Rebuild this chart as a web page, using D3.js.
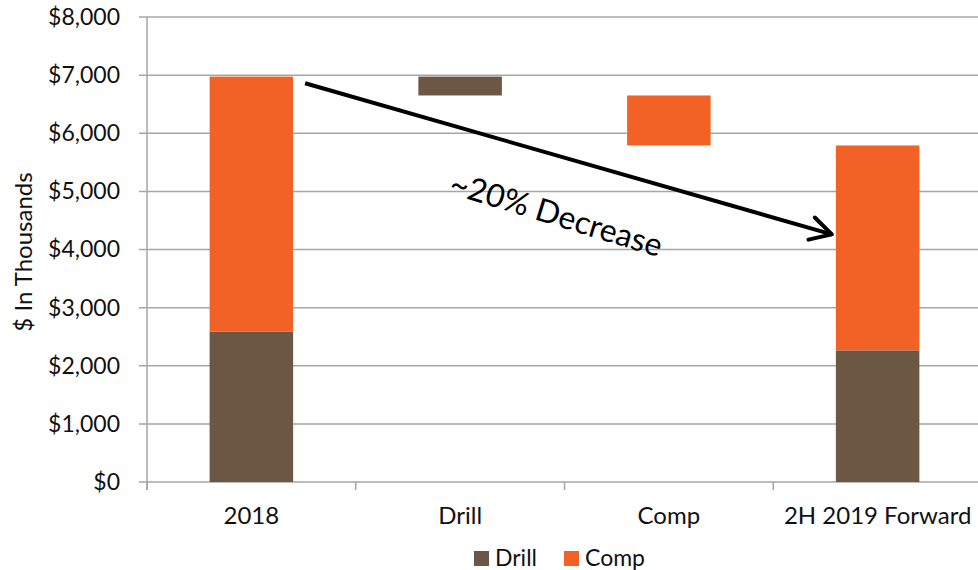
<!DOCTYPE html>
<html>
<head>
<meta charset="utf-8">
<script src="https://cdn.jsdelivr.net/npm/d3@7"></script>
<style>
  html, body { margin: 0; padding: 0; background: #fff; }
  svg { display: block; font-family: Lato, "Open Sans", sans-serif; }
</style>
</head>
<body>
<svg id="chart" width="978" height="570"></svg>
<script>
// Waterfall: 2018 spend, drill and completion savings, 2H 2019 run rate ($K)
const categories = ["2018", "Drill", "Comp", "2H 2019 Forward"];
const baseVals  = [0, 6650, 5790, 0];      // invisible floor for the step bars
const drillVals = [2585, 325, 0, 2265];
const compVals  = [4390, 0, 860, 3525];
const yTicks = [0, 1000, 2000, 3000, 4000, 5000, 6000, 7000, 8000];
const seriesNames = ["Drill", "Comp"];
const colors = { Drill: "#6b5744", Comp: "#f26125" };

const svg = d3.select("#chart");
const plotL = 147, plotR = 982, plotT = 17, plotB = 482;

const x = d3.scaleBand().domain(categories).range([plotL, plotR])
  .paddingInner(0.6).paddingOuter(0.3);
const y = d3.scaleLinear().domain([0, 8000]).range([plotB, plotT]);

// horizontal gridlines
svg.append("g").selectAll("line").data(yTicks).join("line")
  .attr("x1", plotL - 8).attr("x2", plotR)
  .attr("y1", d => y(d)).attr("y2", d => y(d))
  .attr("stroke", "#a6a6a6").attr("stroke-width", 1.5);

// y axis
const yAxis = svg.append("g").attr("transform", `translate(${plotL},0)`)
  .call(d3.axisLeft(y).tickValues(yTicks).tickSize(0).tickPadding(27)
    .tickFormat(d => "$" + d3.format(",")(d)));
yAxis.select(".domain").remove();
yAxis.selectAll("text").attr("font-size", 23).attr("fill", "#111")
  .attr("font-family", "Lato, sans-serif");
svg.append("line").attr("x1", plotL).attr("x2", plotL)
  .attr("y1", plotT).attr("y2", plotB + 8)
  .attr("stroke", "#a6a6a6").attr("stroke-width", 1.5);

// stacked segments
const rows = categories.map((c, i) => ({ cat: c, base: baseVals[i], Drill: drillVals[i], Comp: compVals[i] }));
const stack = d3.stack().keys(["base", ...seriesNames])(rows);
svg.append("g").selectAll("g").data(stack.filter(s => s.key !== "base")).join("g")
  .attr("fill", s => colors[s.key])
  .selectAll("rect").data(s => s.filter(d => d[1] > d[0])).join("rect")
  .attr("x", d => x(d.data.cat))
  .attr("width", x.bandwidth())
  .attr("y", d => y(d[1]))
  .attr("height", d => y(d[0]) - y(d[1]));

// x axis with ticks at category boundaries
const xAxis = svg.append("g").attr("transform", `translate(0,${plotB})`)
  .call(d3.axisBottom(x).tickSize(0).tickPadding(25));
xAxis.select(".domain").remove();
xAxis.selectAll("text").attr("font-size", 24).attr("fill", "#111")
  .attr("font-family", "Lato, sans-serif");
const step = x.step();
const bounds = categories.map(c => x(c) - x.paddingOuter() * step);
svg.append("g").selectAll("line").data(bounds).join("line")
  .attr("x1", d => d).attr("x2", d => d)
  .attr("y1", plotB).attr("y2", plotB + 8)
  .attr("stroke", "#a6a6a6").attr("stroke-width", 1.5);

// y axis title
svg.append("text")
  .attr("transform", `translate(32,252) rotate(-90)`)
  .attr("text-anchor", "middle")
  .attr("font-size", 24).attr("fill", "#111")
  .text("$ In Thousands");

// annotation arrow
const ax1 = x("2018") + x.bandwidth() + 12, ay1 = y(6860);
const ax2 = x("2H 2019 Forward") - 4, ay2 = y(4260);
svg.append("line")
  .attr("x1", ax1).attr("y1", ay1).attr("x2", ax2).attr("y2", ay2)
  .attr("stroke", "#000").attr("stroke-width", 4);
const ang = Math.atan2(ay2 - ay1, ax2 - ax1);
const headLen = 24, spread = 0.5;
const head = [
  [ax2 - headLen * Math.cos(ang - spread), ay2 - headLen * Math.sin(ang - spread)],
  [ax2, ay2],
  [ax2 - headLen * Math.cos(ang + spread), ay2 - headLen * Math.sin(ang + spread)]
];
svg.append("path").attr("d", d3.line()(head))
  .attr("fill", "none").attr("stroke", "#000").attr("stroke-width", 4)
  .attr("stroke-linecap", "round").attr("stroke-linejoin", "round");

svg.append("text")
  .attr("transform", "translate(553,225) rotate(17)")
  .attr("text-anchor", "middle")
  .attr("font-size", 32).attr("fill", "#000")
  .text("~20% Decrease");

// legend
const legend = svg.append("g").attr("transform", "translate(474,551)");
const items = [{ name: "Drill", x: 0 }, { name: "Comp", x: 90 }];
items.forEach(it => {
  legend.append("rect").attr("x", it.x).attr("y", 0).attr("width", 15).attr("height", 15)
    .attr("fill", colors[it.name]);
  legend.append("text").attr("x", it.x + 21).attr("y", 15)
    .attr("font-size", 23).attr("fill", "#111").text(it.name);
});
</script>
</body>
</html>
